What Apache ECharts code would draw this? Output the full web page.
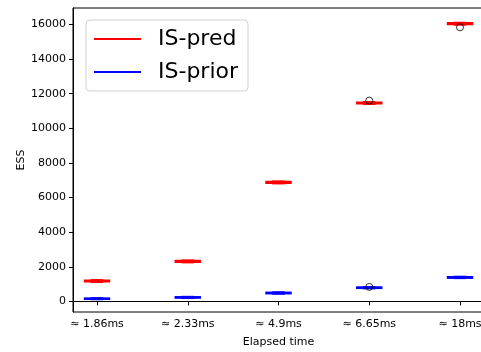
<!DOCTYPE html>
<html>
<head>
<meta charset="utf-8">
<script src="https://cdn.jsdelivr.net/npm/echarts@6/dist/echarts.min.js"></script>
<style>
  html, body { margin: 0; padding: 0; background: #fff; }
  #chart { width: 481px; height: 352px; }
</style>
</head>
<body>
<div id="chart"></div>
<script>
// Categories on the x axis (positions 1..5)
const categories = ['≈ 1.86ms', '≈ 2.33ms', '≈ 4.9ms', '≈ 6.65ms', '≈ 18ms']
const positions = [1, 2, 3, 4, 5]

// Box stats per group: [min, q1, median, q3, max]
const predBox = [
  [1110, 1130, 1178, 1225, 1245],
  [2240, 2260, 2310, 2360, 2380],
  [6800, 6825, 6873, 6920, 6945],
  [11390, 11410, 11460, 11510, 11530],
  [15970, 15990, 16040, 16090, 16110]
]
const priorBox = [
  [110, 125, 156, 190, 200],
  [180, 195, 231, 265, 280],
  [430, 445, 485, 525, 540],
  [740, 755, 791, 830, 845],
  [1330, 1345, 1386, 1425, 1440]
]

// Outliers: [position, value]
const outliers = [
  [4, 11600],
  [4, 837],
  [5, 15830]
]

const yTicks = [0, 2000, 4000, 6000, 8000, 10000, 12000, 14000, 16000]

const font = 'DejaVu Sans'
const boxHalfWidth = 0.1375

function boxRenderer(color) {
  return function (params, api) {
    const x = api.value(0)
    const lo = api.value(1), q1 = api.value(2), med = api.value(3), q3 = api.value(4), hi = api.value(5)
    const tl = api.coord([x - boxHalfWidth, q3])
    const br = api.coord([x + boxHalfWidth, q1])
    const capL = api.coord([x - boxHalfWidth / 2, lo])[0]
    const capR = api.coord([x + boxHalfWidth / 2, lo])[0]
    const cx = api.coord([x, med])[0]
    const yLo = api.coord([x, lo])[1]
    const yHi = api.coord([x, hi])[1]
    const yMed = api.coord([x, med])[1]
    const stroke = { stroke: color, lineWidth: 1.5, fill: null }
    return {
      type: 'group',
      children: [
        { type: 'line', shape: { x1: cx, y1: tl[1], x2: cx, y2: yHi }, style: stroke },
        { type: 'line', shape: { x1: cx, y1: br[1], x2: cx, y2: yLo }, style: stroke },
        { type: 'line', shape: { x1: capL, y1: yHi, x2: capR, y2: yHi }, style: stroke },
        { type: 'line', shape: { x1: capL, y1: yLo, x2: capR, y2: yLo }, style: stroke },
        {
          type: 'rect',
          shape: { x: tl[0], y: tl[1], width: br[0] - tl[0], height: br[1] - tl[1] },
          style: { stroke: color, lineWidth: 1.5, fill: color }
        },
        { type: 'line', shape: { x1: tl[0], y1: yMed, x2: br[0], y2: yMed }, style: stroke }
      ]
    }
  }
}

const toData = (boxes) => boxes.map((b, i) => [positions[i], ...b])

const chart = echarts.init(document.getElementById('chart'), null, { renderer: 'canvas' })

chart.setOption({
  animation: false,
  backgroundColor: '#fff',
  textStyle: { fontFamily: font, color: '#000' },
  grid: {
    left: 73,
    top: 8,
    right: -3,
    bottom: 40,
    containLabel: false,
    outerBoundsMode: 'none',
    show: true,
    borderColor: '#000',
    borderWidth: 1,
    backgroundColor: 'transparent'
  },
  legend: {
    orient: 'vertical',
    left: 86,
    top: 20,
    icon: 'rect',
    itemWidth: 47,
    itemHeight: 2,
    itemGap: 11,
    padding: [8, 10, 8, 8],
    backgroundColor: 'rgba(255,255,255,0.8)',
    borderColor: '#d0d0d0',
    borderWidth: 1,
    borderRadius: 4,
    textStyle: { fontFamily: font, fontSize: 22, color: '#000', padding: [0, 0, 0, 12] },
    data: [
      { name: 'IS-pred', itemStyle: { color: '#ff0000' } },
      { name: 'IS-prior', itemStyle: { color: '#0000ff' } }
    ]
  },
  xAxis: {
    type: 'value',
    min: 0.7355,
    max: 5.2645,
    name: 'Elapsed time',
    nameLocation: 'middle',
    nameGap: 25,
    nameMoveOverlap: false,
    nameTextStyle: { fontFamily: font, fontSize: 11, color: '#000' },
    axisLine: { show: true, lineStyle: { color: '#000', width: 1 } },
    axisTick: { show: true, length: 4, inside: false, customValues: positions, lineStyle: { color: '#000' } },
    axisLabel: {
      customValues: positions,
      fontFamily: font,
      fontSize: 11,
      color: '#000',
      margin: 7,
      formatter: (v) => categories[Math.round(v) - 1]
    },
    splitLine: { show: false }
  },
  yAxis: {
    type: 'value',
    min: -612,
    max: 16947,
    name: 'ESS',
    nameLocation: 'middle',
    nameGap: 46,
    nameMoveOverlap: false,
    nameTextStyle: { fontFamily: font, fontSize: 11, color: '#000' },
    axisLine: { show: true, lineStyle: { color: '#000', width: 1 } },
    axisTick: { show: true, length: 4, customValues: yTicks, lineStyle: { color: '#000' } },
    axisLabel: {
      customValues: yTicks,
      fontFamily: font,
      fontSize: 11,
      color: '#000',
      margin: 7,
      formatter: (v) => String(v)
    },
    splitLine: { show: false }
  },
  series: [
    {
      name: 'IS-pred',
      type: 'custom',
      itemStyle: { color: '#ff0000' },
      renderItem: boxRenderer('#ff0000'),
      encode: { x: 0, y: [1, 2, 3, 4, 5] },
      data: toData(predBox),
      z: 2
    },
    {
      name: 'IS-prior',
      type: 'custom',
      itemStyle: { color: '#0000ff' },
      renderItem: boxRenderer('#0000ff'),
      encode: { x: 0, y: [1, 2, 3, 4, 5] },
      data: toData(priorBox),
      z: 2
    },
    {
      name: 'outliers',
      type: 'scatter',
      symbol: 'circle',
      symbolSize: 7,
      itemStyle: { color: 'transparent', borderColor: '#000', borderWidth: 1 },
      data: outliers,
      z: 3
    }
  ]
})
</script>
</body>
</html>
